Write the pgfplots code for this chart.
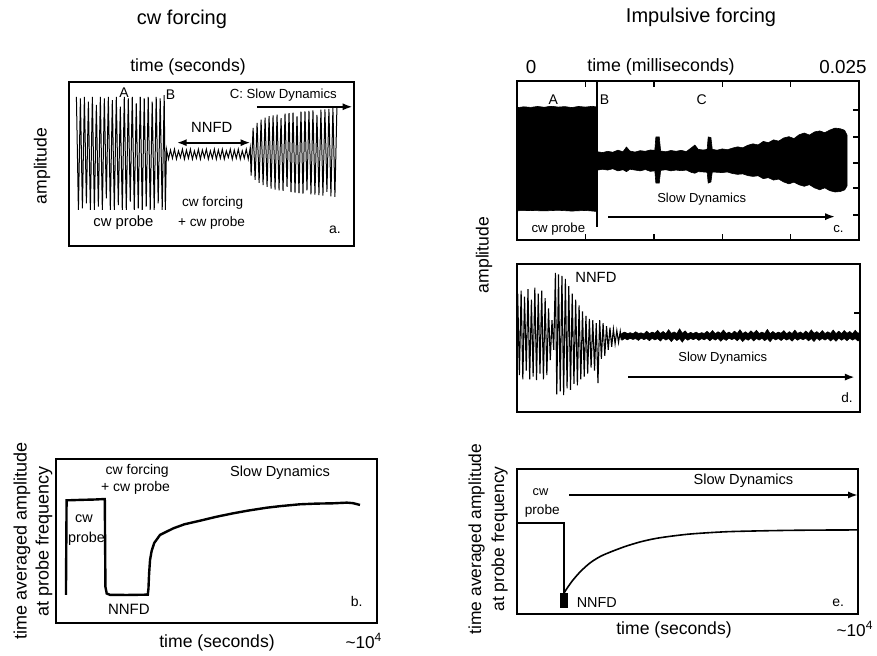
\documentclass[border=0pt]{standalone}
\usepackage{fontspec}
\setmainfont{Liberation Sans}
\usepackage{pgfplots}
\pgfplotsset{compat=1.18}
\usetikzlibrary{arrows.meta}
\newcommand{\fs}[1]{\fontsize{#1}{#1}\selectfont}
\pgfplotsset{panel/.style={scale only axis, anchor=south west, xmin=0, xmax=100, ymin=0, ymax=100,
  axis line style={line width=0.9pt}, xtick=\empty, ytick=\empty, clip=false}}
\tikzset{arr/.style={line width=1.1pt, -{Latex[length=5pt,width=3.6pt]}},
  lab/.style={inner sep=0pt}}
\begin{document}
\begin{tikzpicture}
\useasboundingbox (0,0) rectangle (438.5pt,-327.5pt);

% ---------------- panel a ----------------
\begin{axis}[panel, at={(34.5pt,-123pt)}, width=142.5pt, height=82pt]
\addplot[black, line width=0.5pt] coordinates {
(2.6,91) (3.3,22) (4.0,90) (4.7,23) (5.4,91) (6.1,26) (6.8,88) (7.5,22) (8.2,91) (8.9,22)
(9.6,86) (10.3,24) (11.0,91) (11.7,22) (12.4,90) (13.1,29) (13.8,91) (14.5,22) (15.2,89) (15.9,22)
(16.6,91) (17.3,25) (18.0,85) (18.7,22) (19.4,91) (20.1,22) (20.8,90) (21.5,27) (22.2,91) (22.9,22)
(23.6,87) (24.3,23) (25.0,91) (25.7,22) (26.4,90) (27.1,24) (27.8,91) (28.5,22) (29.2,88) (29.9,22)
(30.6,91) (31.3,26) (32.0,90) (32.7,22) (33.4,92) (33.8,22)
(34.2,59) (34.9,53) (35.6,58.5) (36.3,53.5) (37.0,59) (37.7,53) (38.4,58) (39.1,54) (39.8,59) (40.5,53)
(41.2,58.5) (41.9,53.5) (42.6,59) (43.3,53) (44.0,58) (44.7,53.5) (45.4,59) (46.1,53) (46.8,58.5) (47.5,54)
(48.2,59) (48.9,53) (49.6,58) (50.3,53.5) (51.0,59) (51.7,53) (52.4,58.5) (53.1,53.5) (53.8,59) (54.5,53)
(55.2,58) (55.9,54) (56.6,59) (57.3,53) (58.0,58.5) (58.7,53.5) (59.4,59) (60.1,53) (60.8,58) (61.5,53.5)
(62.2,59) (62.9,53) (63.6,60)
(63.9,43) (64.6,72) (65.3,40.3) (66.0,75) (66.7,38.5) (67.4,77) (68.1,37.2) (68.8,78.3) (69.5,36) (70.2,79.2)
(70.9,35) (71.6,79.7) (72.3,34.4) (73.0,80.1) (73.7,34) (74.4,78) (75.1,33.6) (75.8,80.7) (76.5,36) (77.2,81)
(77.9,32.8) (78.6,81.3) (79.3,32.5) (80.0,79) (80.7,32.2) (81.4,81.9) (82.1,32) (82.8,82.1) (83.5,34) (84.2,82.4)
(84.9,31.5) (85.6,82.7) (86.3,31.3) (87.0,80) (87.7,31) (88.4,83.1) (89.1,30.8) (89.8,83.3) (90.5,33) (91.2,83.6)
(91.9,30.3) (92.6,84) (93.3,30) (94.0,84.1)};
\node[lab, font=\fs{7}] at (axis cs:19.3,93.3) {A};
\node[lab, font=\fs{7}] at (axis cs:35.6,92.5) {B};
\node[lab, font=\fs{6.6}] at (axis cs:75.2,92) {C: Slow Dynamics};
\draw[arr] (axis cs:65.9,84.9) -- (axis cs:99.5,84.9);
\node[lab, font=\fs{7.4}] at (axis cs:50.1,72.4) {NNFD};
\draw[line width=1.1pt, {Latex[length=5pt,width=3.6pt]}-{Latex[length=5pt,width=3.6pt]}] (axis cs:37.8,63) -- (axis cs:63.7,63);
\node[lab, font=\fs{7.4}] at (axis cs:19.1,14.2) {cw probe};
\node[lab, font=\fs{6.8}] at (axis cs:50.4,26) {cw forcing};
\node[lab, font=\fs{6.8}] at (axis cs:50,14.2) {+ cw probe};
\node[lab, font=\fs{7}] at (axis cs:93.3,9.8) {a.};
\end{axis}

% ---------------- panel b ----------------
\begin{axis}[panel, at={(28pt,-311.5pt)}, width=160.5pt, height=82pt]
\addplot[black, line width=1.2pt] coordinates {
(3.1,17.1) (3.3,74.8) (8,75.1) (12,75.3) (15.2,75.6) (15.4,22) (15.8,18) (16.8,17.2) (22,17.1) (28.6,17.3)
(28.8,21) (29.0,30) (29.3,38.5) (29.8,44) (30.6,48.8) (32.4,53.7) (36.5,57.7) (40,60.2) (44.9,62.4) (50,64.8)
(55.2,66.9) (60,68.6) (65.6,70.3) (70,71.3) (76,72.4) (81,72.8) (86.4,73) (90.6,73.4) (92.5,73.1) (94.7,72)};
\node[lab, font=\fs{7.2}] at (axis cs:8.7,63.4) {cw};
\node[lab, font=\fs{7.2}] at (axis cs:9.5,51.2) {probe};
\node[lab, font=\fs{7}] at (axis cs:25.3,92.7) {cw forcing};
\node[lab, font=\fs{7}] at (axis cs:24.8,82.7) {+ cw probe};
\node[lab, font=\fs{7.3}] at (axis cs:69.8,91.7) {Slow Dynamics};
\node[lab, font=\fs{7.5}] at (axis cs:22.7,8.5) {NNFD};
\node[lab, font=\fs{7}] at (axis cs:93.7,13) {b.};
\end{axis}

% ---------------- panel c ----------------
\begin{axis}[panel, at={(258.5pt,-120pt)}, width=171pt, height=79.5pt,
  xtick={20,40,60,80}, xticklabels={}, xtick pos=both,
  ytick={15.7,32.7,48.4,64.8,81.8}, yticklabels={}, ytick pos=right,
  tick align=inside, major tick length=3pt, tick style={black, line width=0.7pt}]
\addplot[fill=black, draw=black, line width=0.3pt] coordinates {
(0,18.4) (0,83.2) (2,83.8) (4,83.4) (6,84) (8,83.5) (10,84.2) (12,83.6) (14,83.9) (16,83.3) (18,84)
(20,83.6) (22,84.1) (23.2,83.7) (23.2,18) (20,18.6) (16,18.2) (12,18.7) (8,18.3) (4,18.6)} -- cycle;
\addplot[black, line width=0.8pt] coordinates {(23.4,100) (23.4,8.2)};
\addplot[fill=black, draw=black, line width=0.3pt] coordinates {
(23.6,55.5) (25.0,55.0) (26.5,55.8) (28.0,55.2) (29.5,56.5) (31.0,55.5) (32.0,58.5) (33.0,56.0) (34.5,55.3)
(36.0,56.2) (37.5,55.8) (39.0,56.6) (40.3,56.5) (40.6,64.8) (41.6,64.8) (42.0,56.0) (43.5,55.5) (45.0,56.3)
(46.5,55.8) (48.0,56.4) (49.5,55.6) (51.0,58.0) (52.0,59.7) (53.0,57.0) (54.5,56.6) (55.6,57.0) (55.9,64.8)
(56.7,64.5) (57.1,57.0) (58.5,56.5) (60.0,57.3) (61.5,56.8) (63.0,57.8) (64.5,58.6) (66.0,58.0) (67.5,59.6)
(69.0,60.5) (70.5,59.8) (72.0,62.0) (73.5,61.2) (75.0,63.0) (76.5,62.2) (78.0,64.2) (79.5,65.0) (81.0,63.8)
(82.5,66.2) (84.0,67.3) (85.5,66.0) (87.0,68.0) (88.5,68.6) (90.0,67.5) (91.5,69.2) (93.0,70.4) (94.5,70.0)
(95.8,69.0) (96.5,66.0)
(96.5,34.0) (95.8,31.5) (94.5,30.5) (93.0,30.2) (91.5,31.0) (90.0,32.8) (88.5,31.6) (87.0,32.8) (85.5,34.8)
(84.0,33.8) (82.5,34.7) (81.0,36.4) (79.5,35.3) (78.0,36.5) (76.5,38.3) (75.0,37.7) (73.5,39.2) (72.0,38.6)
(70.5,40.4) (69.0,40.0) (67.5,40.5) (66.0,41.6) (64.5,41.3) (63.0,41.8) (61.5,42.8) (60.0,42.4) (58.5,42.6)
(57.1,42.8) (56.7,36.5) (55.9,35.8) (55.6,42.6) (54.5,42.8) (53.0,43.0) (52.0,42.0) (51.0,42.5) (49.5,44.0)
(48.0,43.6) (46.5,44.0) (45.0,43.5) (43.5,44.2) (42.0,43.8) (41.6,35.8) (40.6,35.8) (40.3,43.5) (39.0,43.2)
(37.5,44.3) (36.0,43.5) (34.5,44.0) (33.0,44.5) (32.0,43.0) (31.0,44.2) (29.5,43.5) (28.0,44.8) (26.5,44.0)
(25.0,44.5) (23.6,44.0)} -- cycle;
\node[lab, font=\fs{7}, fill=white, inner sep=0.5pt] at (axis cs:10.6,88) {A};
\node[lab, font=\fs{7}] at (axis cs:25.6,88) {B};
\node[lab, font=\fs{7}] at (axis cs:54,88) {C};
\node[lab, font=\fs{6.5}] at (axis cs:54,25.6) {Slow Dynamics};
\draw[arr] (axis cs:26.7,14.7) -- (axis cs:93,14.7);
\node[lab, font=\fs{6.6}] at (axis cs:12.1,6.9) {cw probe};
\node[lab, font=\fs{6.6}] at (axis cs:94,6.9) {c.};
\end{axis}

% ---------------- panel d ----------------
\begin{axis}[panel, at={(258.5pt,-206pt)}, width=171.5pt, height=74pt,
  ytick={66.9}, yticklabels={}, ytick pos=right, tick align=inside, major tick length=3pt,
  tick style={black, line width=0.7pt}]
\addplot[black, line width=0.55pt] coordinates {
(0.2,80) (0.7,25) (1.2,82) (1.7,22) (2.2,78) (2.7,28) (3.2,83) (3.7,22) (4.2,76) (4.7,24)
(5.2,84) (5.7,21.6) (6.2,80) (6.7,26) (7.2,82) (7.7,22) (8.2,77) (8.7,25) (9.2,70) (9.7,35)
(10.2,62) (10.7,42) (11.2,94) (11.6,12) (12.1,93) (12.6,14) (13.1,92) (13.6,11.5) (14.1,90) (14.6,16)
(15.1,85) (15.6,15) (16.1,80) (16.6,19) (17.1,76) (17.6,18) (18.1,72) (18.6,22) (19.1,68) (19.6,24)
(20.1,65) (20.6,26) (21.1,63) (21.6,30) (22.1,62) (22.6,28) (23.1,60) (23.6,19.6) (24.1,62) (24.6,36)
(25.1,60) (25.6,38) (26.1,58) (26.6,42) (27.1,57) (27.6,44) (28.1,56) (28.6,46) (29.1,55) (29.6,47)
(30.1,54.5) (30.4,49)};
\addplot[fill=black, draw=black, line width=0.3pt] coordinates {
(30.1,51.5)
(30.6,53.2) (31.4,54.0) (32.2,53.0) (33.0,53.6) (33.8,52.9) (34.6,54.2) (35.4,53.1) (36.2,53.5) (37.0,52.8) (37.8,54.6)
(38.6,53.0) (39.4,54.0) (40.2,53.2) (41.0,55.2) (41.8,53.0) (42.6,54.4) (43.4,52.9) (44.2,55.6) (45.0,53.1) (45.8,54.1)
(46.6,53.0) (47.4,56.2) (48.2,53.2) (49.0,54.8) (49.8,52.8) (50.6,53.8) (51.4,53.0) (52.2,54.0) (53.0,52.9) (53.8,53.6)
(54.6,53.1) (55.4,54.5) (56.2,53.0) (57.0,55.0) (57.8,52.9) (58.6,54.2) (59.4,53.2) (60.2,55.4) (61.0,53.0) (61.8,54.0)
(62.6,52.8) (63.4,54.6) (64.2,53.1) (65.0,55.6) (65.8,53.0) (66.6,54.2) (67.4,52.9) (68.2,54.8) (69.0,53.2) (69.8,55.2)
(70.6,53.0) (71.4,54.0) (72.2,53.1) (73.0,55.8) (73.8,52.9) (74.6,54.4) (75.4,53.0) (76.2,54.0) (77.0,53.2) (77.8,55.0)
(78.6,52.8) (79.4,54.3) (80.2,53.0) (81.0,55.3) (81.8,53.1) (82.6,54.1) (83.4,52.9) (84.2,54.7) (85.0,53.0) (85.8,55.5)
(86.6,53.2) (87.4,54.3) (88.2,52.9) (89.0,55.0) (89.8,53.0) (90.6,54.2) (91.4,53.1) (92.2,55.4) (93.0,52.9) (93.8,54.6)
(94.6,53.0) (95.4,55.0) (96.2,53.2) (97.0,54.4) (97.8,52.9) (98.6,55.2) (99.4,53.1) (100,54.0)
(100,48.8) (99.4,48.0) (98.6,49.6) (97.8,48.6) (97.0,49.8) (96.2,48.2) (95.4,49.7) (94.6,48.5) (93.8,49.9) (93.0,47.8)
(92.2,49.6) (91.4,48.0) (90.6,49.8) (89.8,48.6) (89.0,49.7) (88.2,48.4) (87.4,49.9) (86.6,47.7) (85.8,49.6) (85.0,48.1)
(84.2,49.8) (83.4,48.8) (82.6,49.7) (81.8,48.5) (81.0,49.9) (80.2,47.9) (79.4,49.6) (78.6,48.6) (77.8,49.8) (77.0,48.3)
(76.2,49.7) (75.4,48.7) (74.6,49.9) (73.8,47.5) (73.0,49.6) (72.2,48.2) (71.4,49.8) (70.6,48.6) (69.8,49.7) (69.0,48.0)
(68.2,49.9) (67.4,48.5) (66.6,49.6) (65.8,47.6) (65.0,49.8) (64.2,48.2) (63.4,49.7) (62.6,48.9) (61.8,49.9) (61.0,48.4)
(60.2,49.6) (59.4,47.8) (58.6,49.8) (57.8,48.6) (57.0,49.7) (56.2,48.1) (55.4,49.9) (54.6,48.8) (53.8,49.6) (53.0,48.4)
(52.2,49.8) (51.4,48.9) (50.6,49.7) (49.8,48.5) (49.0,49.9) (48.2,47.2) (47.4,49.6) (46.6,48.3) (45.8,49.8) (45.0,47.6)
(44.2,49.7) (43.4,48.6) (42.6,49.9) (41.8,48.0) (41.0,49.6) (40.2,48.7) (39.4,49.8) (38.6,48.2) (37.8,49.7) (37.0,48.9)
(36.2,49.9) (35.4,48.4) (34.6,49.6) (33.8,49.0) (33.0,49.8) (32.2,48.8) (31.4,49.7) (30.6,48.5)} -- cycle;
\node[lab, font=\fs{7.4}, anchor=west] at (axis cs:16.9,91) {NNFD};
\node[lab, font=\fs{6.5}] at (axis cs:60,36.5) {Slow Dynamics};
\draw[arr] (axis cs:32.4,23.6) -- (axis cs:98.5,23.6);
\node[lab, font=\fs{6.8}] at (axis cs:96.2,10) {d.};
\end{axis}

% ---------------- panel e ----------------
\begin{axis}[panel, at={(258.5pt,-307pt)}, width=170.5pt, height=72.5pt]
\addplot[black, line width=0.8pt] coordinates {(0,62.8) (13.8,62.8) (13.8,14.5)};
\addplot[black, line width=0.8pt, smooth] coordinates {
(13.8,14.5) (14.6,17.5) (16.4,23.4) (18.7,29.5) (21.4,35.2) (24.5,39.8) (28.2,43.5) (32,46.8) (36.1,49.7)
(40,51.8) (44,53.3) (50,55) (55.7,56) (62,56.8) (70.4,57.3) (80,57.7) (90,57.9) (100,58)};
\addplot[fill=black, draw=none] coordinates {(12.6,4.1) (15.0,4.1) (15.0,14.5) (12.6,14.5)} -- cycle;
\node[lab, font=\fs{6.4}] at (axis cs:6.9,84.3) {cw};
\node[lab, font=\fs{6.8}] at (axis cs:7.4,71.2) {probe};
\node[lab, font=\fs{7.3}] at (axis cs:66.4,91.9) {Slow Dynamics};
\draw[arr, line width=1.3pt] (axis cs:15.3,82.1) -- (axis cs:100,82.1);
\node[lab, font=\fs{7.2}] at (axis cs:23.4,7.8) {NNFD};
\node[lab, font=\fs{7}] at (axis cs:94.2,7.8) {e.};
\end{axis}

% ---------------- outside texts ----------------
\begin{scope}[x=0.5pt,y=-0.5pt]
\node[lab, font=\fs{10}] at (182,19) {cw forcing};
\node[lab, font=\fs{10}] at (701,17) {Impulsive forcing};
\node[lab, font=\fs{8.8}] at (188,67) {time (seconds)};
\node[lab, font=\fs{8.8}, rotate=90] at (42,166) {amplitude};
\node[lab, font=\fs{9.4}] at (531,67) {0};
\node[lab, font=\fs{8.9}] at (661,67) {time (milliseconds)};
\node[lab, font=\fs{9.4}] at (843,67) {0.025};
\node[lab, font=\fs{8.8}, rotate=90] at (484,255) {amplitude};
\node[lab, font=\fs{9}, rotate=90, align=center, execute at begin node={\baselineskip=11pt}] at (33,541) {time averaged amplitude\\at probe frequency};
\node[lab, font=\fs{8.7}, rotate=90, align=center, execute at begin node={\baselineskip=11.5pt}] at (488,539) {time averaged amplitude\\at probe frequency};
\node[lab, font=\fs{8.8}] at (217,643) {time (seconds)};
\node[lab, font=\fs{8.6}] at (364,641) {\textasciitilde10\textsuperscript{4}};
\node[lab, font=\fs{8.8}] at (674,630) {time (seconds)};
\node[lab, font=\fs{8.6}] at (855,629) {\textasciitilde10\textsuperscript{4}};
\end{scope}
\end{tikzpicture}
\end{document}
